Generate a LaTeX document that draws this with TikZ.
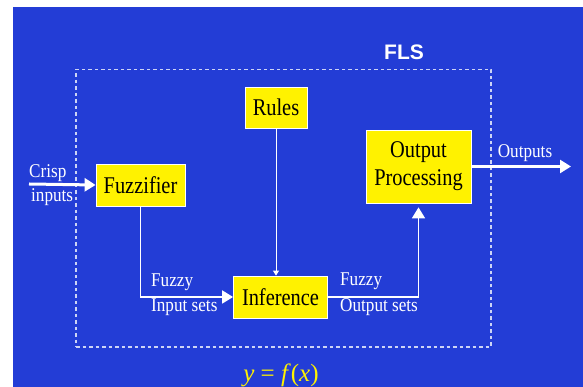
\documentclass[tikz,border=0pt]{standalone}
\usepackage{fontspec}
\setmainfont{Liberation Serif}
\newfontfamily\boxfont[FakeStretch=0.85]{Liberation Serif}
\newfontfamily\lblfont[FakeStretch=0.88]{Liberation Serif}
\newfontfamily\headfont{Liberation Sans}
\usepackage{tikz}
\usetikzlibrary{arrows.meta, positioning}
\usepackage{xcolor}
\definecolor{slideblue}{RGB}{35,61,214}
\definecolor{dashwhite}{RGB}{205,212,245}
\tikzstyle{block} = [rectangle, draw=white, line width=0.8pt, fill=yellow, text=black, inner sep=0pt, align=center, font=\boxfont\fontsize{24}{28}\selectfont]
\tikzstyle{lbl} = [text=white, inner sep=0pt, font=\lblfont\fontsize{19.5}{21}\selectfont]
\tikzstyle{bigarrow} = [white, line width=2.2pt, -{Triangle[length=11pt,width=13pt]}]
\tikzstyle{thinarrow} = [white, line width=0.9pt, -{Triangle[length=5pt,width=6pt]}]

\begin{document}
\begin{tikzpicture}[x=1pt, y=1pt, node distance=140pt]
    \useasboundingbox (0,0) rectangle (583,387);
    \clip (0,0) rectangle (583,387);
    \fill[white] (0,0) rectangle (583,387);
    \fill[slideblue] (13,0) rectangle (583,380);

    % system boundary
    \node (flsbox) [draw=dashwhite, line width=1.1pt, dash pattern=on 3.5pt off 3pt, minimum width=415pt, minimum height=277.5pt, inner sep=0pt] at (283.5,178.75) {};
    \node (flslabel) [text=white, font=\headfont\bfseries\fontsize{21}{24}\selectfont] at (404,335) {FLS};

    % blocks
    \node (fuzz) [block, minimum width=89pt, minimum height=42pt] at (140.5,202) {Fuzzifier};
    \node (inf) [block, minimum width=94pt, minimum height=42pt, right of=fuzz, yshift=-112pt] {Inference};
    \node (rules) [block, minimum width=62pt, minimum height=41pt, above of=inf, xshift=-4.5pt, yshift=49.5pt] {Rules};
    \node (outp) [block, minimum width=105pt, minimum height=73pt, right of=inf, xshift=-2pt, yshift=130.5pt] {Output\\Processing};

    \coordinate (crispin) at (29,203);
    \coordinate (outend) at (571,220.5);

    % labels
    \node (crisp) [lbl, anchor=west] at (29,214) {Crisp};
    \node (inputs) [lbl, anchor=west] at (31,190) {inputs};
    \node (fuzzyin) [lbl, anchor=west] at (151,105) {Fuzzy};
    \node (insets) [lbl, anchor=west] at (151,80) {Input sets};
    \node (fuzzyout) [lbl, anchor=west] at (340,106) {Fuzzy};
    \node (outsets) [lbl, anchor=west] at (340,80) {Output sets};
    \node (outputs) [lbl] at (525,234) {Outputs};
    \node (func) [text=yellow, inner sep=0pt, anchor=base, font=\fontsize{25}{28}\selectfont] at (281,5) {\textit{y} = \textit{f}(\textit{x})};

    % connections
    \draw [bigarrow, line width=3pt] (crispin) -- (fuzz.west);
    \draw [bigarrow, line width=1.8pt] (fuzz.south) |- (inf.west);
    \draw [thinarrow] (rules.south) -- (rules.south |- inf.north);
    \draw [bigarrow, line width=1.8pt, shorten >=4pt] (inf.east) -| (outp.south);
    \draw [bigarrow, line width=2.5pt] (outp.east) -- (outend);
\end{tikzpicture}
\end{document}
